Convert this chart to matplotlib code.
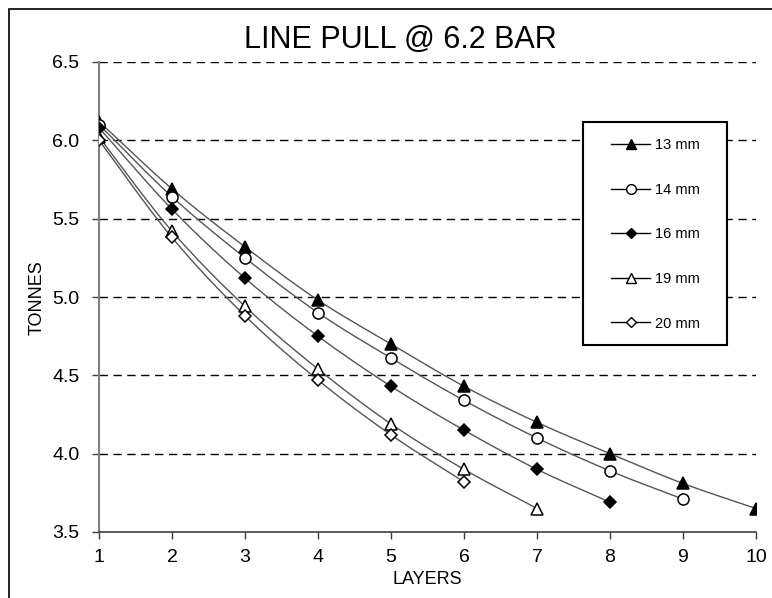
import numpy as np
import matplotlib
matplotlib.use("Agg")
import matplotlib.pyplot as plt
from matplotlib.lines import Line2D
from matplotlib.patches import Rectangle

plt.rcParams['font.family'] = ['Liberation Sans', 'DejaVu Sans']

layers = [1, 2, 3, 4, 5, 6, 7, 8, 9, 10]
labels = ["13 mm", "14 mm", "16 mm", "19 mm", "20 mm"]
pull_13 = [6.12, 5.69, 5.32, 4.98, 4.70, 4.43, 4.20, 4.00, 3.81, 3.65]
pull_14 = [6.10, 5.64, 5.25, 4.90, 4.61, 4.34, 4.10, 3.89, 3.71]
pull_16 = [6.08, 5.56, 5.12, 4.75, 4.43, 4.15, 3.90, 3.69]
pull_19 = [6.02, 5.42, 4.94, 4.54, 4.19, 3.90, 3.65]
pull_20 = [6.00, 5.38, 4.88, 4.47, 4.12, 3.82]
series = [pull_13, pull_14, pull_16, pull_19, pull_20]
markers = [dict(marker='^', mfc='black'), dict(marker='o', mfc='white'),
           dict(marker='D', mfc='black'), dict(marker='^', mfc='white'),
           dict(marker='D', mfc='white')]
msizes = [8, 8, 6, 8, 6]


def smooth(x, y, n=20):
    x = np.asarray(x, float); y = np.asarray(y, float)
    px = np.concatenate([[2 * x[0] - x[1]], x, [2 * x[-1] - x[-2]]])
    py = np.concatenate([[2 * y[0] - y[1]], y, [2 * y[-1] - y[-2]]])
    xs, ys = [], []
    for i in range(1, len(px) - 2):
        t = np.linspace(0, 1, n, endpoint=False)
        for arr, out in ((px, xs), (py, ys)):
            p0, p1, p2, p3 = arr[i - 1], arr[i], arr[i + 1], arr[i + 2]
            out.extend(0.5 * ((2 * p1) + (-p0 + p2) * t + (2 * p0 - 5 * p1 + 4 * p2 - p3) * t ** 2
                              + (-p0 + 3 * p1 - 3 * p2 + p3) * t ** 3))
    xs.append(x[-1]); ys.append(y[-1])
    return xs, ys


W, H = 772, 598
fig = plt.figure(figsize=(W / 100, H / 100), dpi=100)
fig.patches.append(Rectangle((9 / W, -0.01), 1.0, 1 - 9 / H + 0.01, transform=fig.transFigure,
                             fill=False, edgecolor='black', linewidth=1.2))
ax = fig.add_axes([99 / W, 1 - 532 / H, (756 - 99) / W, (532 - 62) / H])

for vals, mk, ms, lab in zip(series, markers, msizes, labels):
    xv = layers[:len(vals)]
    sx, sy = smooth(xv, vals)
    ax.plot(sx, sy, color='#555555', linewidth=1.0, zorder=2)
    ax.plot(xv, vals, linestyle='none', color='black', mec='black', markersize=ms,
            markeredgewidth=1.1, zorder=3, **mk)

ax.set_xlim(1, 10)
ax.set_ylim(3.5, 6.5)
ax.set_xticks(layers)
yt = [3.5, 4.0, 4.5, 5.0, 5.5, 6.0, 6.5]
ax.set_yticks(yt)
ax.set_yticklabels([f"{v:.1f}" for v in yt])
for v in yt[1:]:
    ax.axhline(v, color='black', linestyle=(0, (6, 4)), linewidth=1.0, zorder=1)
for s in ['top', 'right']:
    ax.spines[s].set_visible(False)
ax.spines['left'].set_color('#808080')
ax.spines['left'].set_linewidth(1.5)
ax.spines['bottom'].set_color('#404040')
ax.spines['bottom'].set_linewidth(1.2)
ax.tick_params(axis='both', labelsize=14, length=5, width=1, direction='out', colors='#404040')
ax.tick_params(axis='both', labelcolor='black')
ax.tick_params(axis='x', pad=7)
ax.tick_params(axis='y', pad=9)
ax.set_xlabel("LAYERS", fontsize=13, labelpad=4)
ax.set_ylabel("TONNES", fontsize=13)
ax.yaxis.set_label_coords(-0.082, 0.498)
ax.patch.set_alpha(0)

fig.text(400 / W, 1 - 40 / H, "LINE PULL @ 6.2 BAR", ha='center', va='center', fontsize=22)

# legend box
fig.patches.append(Rectangle((583 / W, 1 - 345 / H), (727 - 583) / W, (345 - 122) / H,
                             transform=fig.transFigure, facecolor='white', edgecolor='black',
                             linewidth=1.5, zorder=4))
handles = [Line2D([], [], color='black', linewidth=1.0, markersize=ms - 1, mec='black', **mk)
           for mk, ms in zip(markers, msizes)]
leg = fig.legend(handles, labels, loc='upper left',
                 bbox_to_anchor=(611 / W, 1 - 138 / H), fontsize=10.5, frameon=False,
                 borderpad=0, labelspacing=2.1,
                 handlelength=2.7, handletextpad=0.35, borderaxespad=0)
leg.set_zorder(6)

fig.savefig("out.png", dpi=100)
